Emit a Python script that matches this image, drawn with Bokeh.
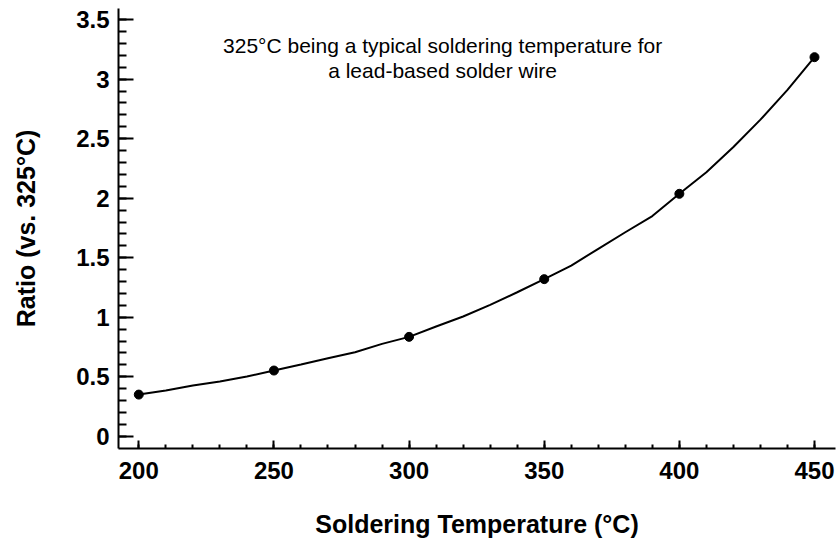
from bokeh.plotting import figure
from bokeh.models import FixedTicker, Range1d, Label
from bokeh.embed import file_html
from bokeh.resources import INLINE
import numpy as np

# Data
curve_temp = [200, 210, 220, 230, 240, 250, 260, 270, 280, 290, 300, 310, 320,
              330, 340, 350, 360, 370, 380, 390, 400, 410, 420, 430, 440, 450]
curve_ratio = [0.35, 0.384, 0.426, 0.46, 0.502, 0.552, 0.603, 0.656, 0.706, 0.776,
               0.835, 0.922, 1.006, 1.104, 1.21, 1.32, 1.434, 1.575, 1.714, 1.85,
               2.037, 2.218, 2.43, 2.66, 2.91, 3.185]
point_temp = [200, 250, 300, 350, 400, 450]
point_ratio = [0.35, 0.552, 0.835, 1.32, 2.037, 3.185]

x_ticks = [200, 250, 300, 350, 400, 450]
x_tick_labels = ["200", "250", "300", "350", "400", "450"]
y_ticks = [0, 0.5, 1, 1.5, 2, 2.5, 3, 3.5]
y_tick_labels = ["0", "0.5", "1", "1.5", "2", "2.5", "3", "3.5"]

annotation_lines = ["325°C being a typical soldering temperature for",
                    "a lead-based solder wire"]

FONT = "Liberation Sans"

p = figure(width=836, height=540, output_backend="svg", toolbar_location=None,
           x_range=Range1d(192.49, 457.77), y_range=Range1d(-0.103, 3.594),
           min_border_left=118, min_border_right=1, min_border_top=8,
           min_border_bottom=92)
p.outline_line_color = None
p.grid.visible = False
p.background_fill_color = "white"
p.border_fill_color = "white"

p.line(curve_temp, curve_ratio, line_color="black", line_width=2)
p.scatter(point_temp, point_ratio, size=9, fill_color="black", line_color="black")

x_minor = [float(v) for v in np.arange(200, 451, 10)]
y_minor = [round(float(v), 2) for v in np.arange(0, 3.51, 0.1)]

xa = p.xaxis[0]
xa.ticker = FixedTicker(ticks=x_ticks, minor_ticks=x_minor)
xa.major_label_overrides = {t: l for t, l in zip(x_ticks, x_tick_labels)}
ya = p.yaxis[0]
ya.ticker = FixedTicker(ticks=y_ticks, minor_ticks=y_minor)
ya.major_label_overrides = {t: l for t, l in zip(y_ticks, y_tick_labels)}

for ax in (xa, ya):
    ax.axis_line_width = 2
    ax.axis_line_color = "black"
    ax.major_tick_line_width = 2
    ax.minor_tick_line_width = 2
    ax.major_tick_line_color = "black"
    ax.minor_tick_line_color = "black"
    ax.major_tick_out = 0
    ax.minor_tick_out = 0
    ax.major_label_text_font = FONT
    ax.major_label_text_font_style = "bold"
    ax.major_label_text_font_size = "24px"
    ax.major_label_text_color = "black"
    ax.axis_label_text_font = FONT
    ax.axis_label_text_font_style = "bold"
    ax.axis_label_text_font_size = "25px"
    ax.axis_label_text_color = "black"

xa.major_tick_in = 8
xa.minor_tick_in = 4
xa.major_label_standoff = 13
xa.axis_label = "Soldering Temperature (°C)"
xa.axis_label_standoff = 28

ya.major_tick_in = 15
ya.minor_tick_in = 8
ya.major_label_standoff = 9
ya.axis_label = "Ratio (vs. 325°C)"
ya.axis_label_standoff = 33

p.add_layout(Label(x=312.4, y=3.28, text=annotation_lines[0], text_align="center",
                   text_baseline="alphabetic", text_font=FONT, text_font_size="21px",
                   text_color="black"))
p.add_layout(Label(x=312.4, y=3.075, text=annotation_lines[1], text_align="center",
                   text_baseline="alphabetic", text_font=FONT, text_font_size="21px",
                   text_color="black"))

open("out.html", "w").write(file_html(p, INLINE))
